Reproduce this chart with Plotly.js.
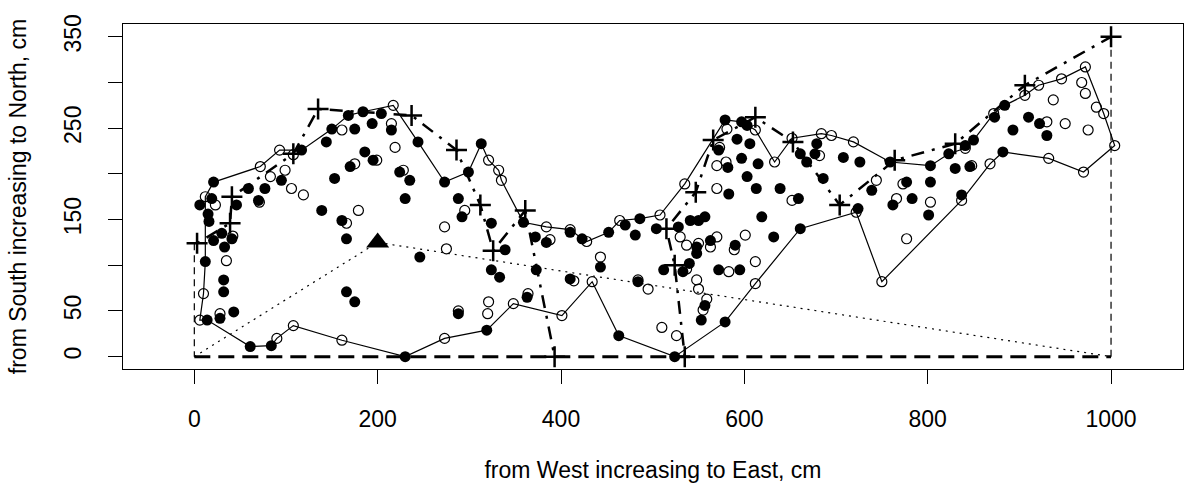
<!DOCTYPE html>
<html>
<head>
<meta charset="utf-8">
<script src="https://cdn.plot.ly/plotly-3.0.1.min.js"></script>
<style>html,body{margin:0;padding:0;background:#fff;}#chart{width:1186px;height:487px;}</style>
</head>
<body>
<div id="chart"></div>
<script>
// ---- data (cm) ----
const filledX = [21,6,19,15,16,46,59,70,77,30,21,33,41,12,32,32,43,28,14,61,84,95,
  168,184,204,150,175,194,144,117,186,195,170,153,139,161,166,166,175,
  215,244,273,299,313,224,235,230,288,292,246,288,230,319,
  359,410,423,324,339,324,333,372,384,373,363,410,
  443,452,470,481,486,504,528,541,548,512,540,533,484,463,524,
  579,597,603,592,572,606,597,615,582,603,613,639,659,583,619,632,661,557,550,563,548,590,572,595,557,553,579,
  679,661,668,677,686,708,726,759,724,739,777,762,
  783,803,803,801,823,830,846,841,850,873,884,893,882,837,
  910,922,930];
const filledY = [191,166,173,156,148,166,184,171,184,135,127,120,129,104,84,71,49,42,40,11,12,193,
  264,268,266,249,249,255,235,226,224,215,208,195,160,149,129,71,60,
  248,235,191,202,233,202,193,173,173,153,109,47,0,29,
  147,136,129,146,117,95,87,131,125,95,65,85,
  98,136,144,133,151,140,142,149,113,95,102,93,82,23,0,
  259,257,253,238,226,233,217,211,207,197,184,184,173,178,153,131,140,153,149,127,120,122,95,95,56,40,38,
  233,222,213,222,195,218,213,213,162,182,191,166,
  173,209,191,155,222,206,208,231,237,262,275,248,224,177,
  262,255,242];

const openX = [12,23,71,72,83,93,42,35,10,28,6,90,
  161,108,99,106,119,199,175,179,166,108,161,
  217,215,219,228,295,273,275,288,273,
  321,321,320,332,335,384,410,428,348,401,434,388,364,414,
  443,464,508,535,530,537,537,484,495,548,510,526,
  581,612,573,633,570,580,652,570,563,570,550,589,601,583,612,550,559,555,612,652,
  684,695,719,682,722,744,750,777,773,766,
  803,841,848,872,868,837,
  906,921,946,972,968,972,984,992,1004,937,950,975,930,932,970];
const openY = [175,166,169,208,197,226,132,105,69,47,40,20,
  248,221,204,184,177,215,211,160,146,34,18,
  275,255,229,204,160,142,118,50,20,
  215,60,47,204,193,142,139,126,58,45,82,128,69,83,
  109,149,155,189,131,122,96,84,74,84,32,23,
  249,248,229,213,209,213,171,184,120,131,124,117,133,93,104,74,63,51,80,239,
  244,242,235,220,158,193,82,129,189,173,
  169,228,209,266,211,171,
  286,297,304,317,300,288,273,266,231,281,255,248,257,217,202];

// outline joining the outermost trees (solid line), closed
const outlineX = [21,72,93,117,150,168,184,217,244,273,299,313,321,332,335,359,384,410,423,428,452,464,486,508,535,
  579,597,612,633,652,684,695,719,759,803,823,841,850,872,884,906,921,946,972,992,1004,
  970,932,882,868,837,750,722,661,612,579,524,463,434,401,348,319,273,230,161,108,90,84,61,14,6,10,12,12,21];
const outlineY = [191,208,226,226,249,264,268,275,235,191,202,233,215,204,193,147,142,139,129,126,136,149,151,155,189,
  259,257,248,213,239,244,242,235,213,209,222,228,237,266,275,286,297,304,317,266,231,
  202,217,224,211,171,82,158,140,80,38,0,23,82,45,58,29,20,0,18,34,20,12,11,40,40,69,104,175,191];

// boundary vertices (+), two dash-dot pieces
const edgeAX = [3,39,41,108,135,237,286,312,326,361,393];
const edgeAY = [124,146,175,222,271,264,226,166,116,160,0];
const edgeBX = [535,524,515,547,566,612,653,704,764,830,906,1000];
const edgeBY = [0,100,140,180,237,262,235,166,215,233,297,350];

// frame sides (thin dashed) and base (thick dashed)
const sideX = [0,0,null,1000,1000];
const sideY = [124,0,null,0,350];
const baseX = [0,1000];
const baseY = [0,0];

// reference point (triangle) and dotted rays
const refX = [200];
const refY = [125];
const rayX = [0,200,1000];
const rayY = [0,125,0];

const xTicks = [0,200,400,600,800,1000];
const yTicks = [0,50,100,150,200,250,300,350];
const yTickText = ['0','50','','150','','250','','350'];

const FONT = 'Liberation Sans, Arial, Helvetica, sans-serif';

const traces = [
  {x: outlineX, y: outlineY, mode:'lines', line:{color:'black', width:1.2}, hoverinfo:'skip'},
  {x: sideX, y: sideY, mode:'lines', line:{color:'black', width:1.2, dash:'7px,5px'}, connectgaps:false},
  {x: baseX, y: baseY, mode:'lines', line:{color:'black', width:3, dash:'16px,8px'}},
  {x: rayX, y: rayY, mode:'lines', line:{color:'black', width:1.2, dash:'2px,5px'}},
  {x: edgeAX, y: edgeAY, mode:'lines+markers', line:{color:'black', width:2.5, dash:'3px,8px,13px,8px'},
   marker:{symbol:'cross-thin-open', size:15, color:'black', line:{width:2.5, color:'black'}}},
  {x: edgeBX, y: edgeBY, mode:'lines+markers', line:{color:'black', width:2.5, dash:'3px,8px,13px,8px'},
   marker:{symbol:'cross-thin-open', size:15, color:'black', line:{width:2.5, color:'black'}}},
  {x: filledX, y: filledY, mode:'markers', marker:{symbol:'circle', size:11, color:'black', line:{width:0}}},
  {x: openX, y: openY, mode:'markers', marker:{symbol:'circle-open', size:10, color:'black', line:{width:1.2, color:'black'}}},
  {x: refX, y: refY, mode:'markers', marker:{symbol:'triangle-up', size:20, color:'black', line:{width:0}}}
];

const layout = {
  width:1186, height:487,
  margin:{l:123, r:3, t:24, b:118},
  paper_bgcolor:'white', plot_bgcolor:'white',
  showlegend:false,
  font:{family:FONT, size:23, color:'black'},
  xaxis:{
    range:[-77.8, 1078.5], tickvals:xTicks, ticks:'outside', ticklen:14, tickwidth:1, tickcolor:'black',
    showline:true, mirror:true, linecolor:'black', linewidth:1, showgrid:false, zeroline:false,
    tickfont:{family:FONT, size:23, color:'black'}, ticklabelstandoff:15,
    title:{text:'from West increasing to East, cm', font:{family:FONT, size:23, color:'black'}, standoff:31}
  },
  yaxis:{
    range:[-13.5, 364], tickvals:yTicks, ticktext:yTickText, tickangle:-90,
    ticks:'outside', ticklen:14, tickwidth:1, tickcolor:'black',
    showline:true, mirror:true, linecolor:'black', linewidth:1, showgrid:false, zeroline:false,
    tickfont:{family:FONT, size:23, color:'black'}, ticklabelstandoff:18,
    title:{text:'from South increasing to North, cm', font:{family:FONT, size:23, color:'black'}, standoff:26}
  }
};

Plotly.newPlot('chart', traces, layout, {displayModeBar:false, staticPlot:true});
</script>
</body>
</html>
